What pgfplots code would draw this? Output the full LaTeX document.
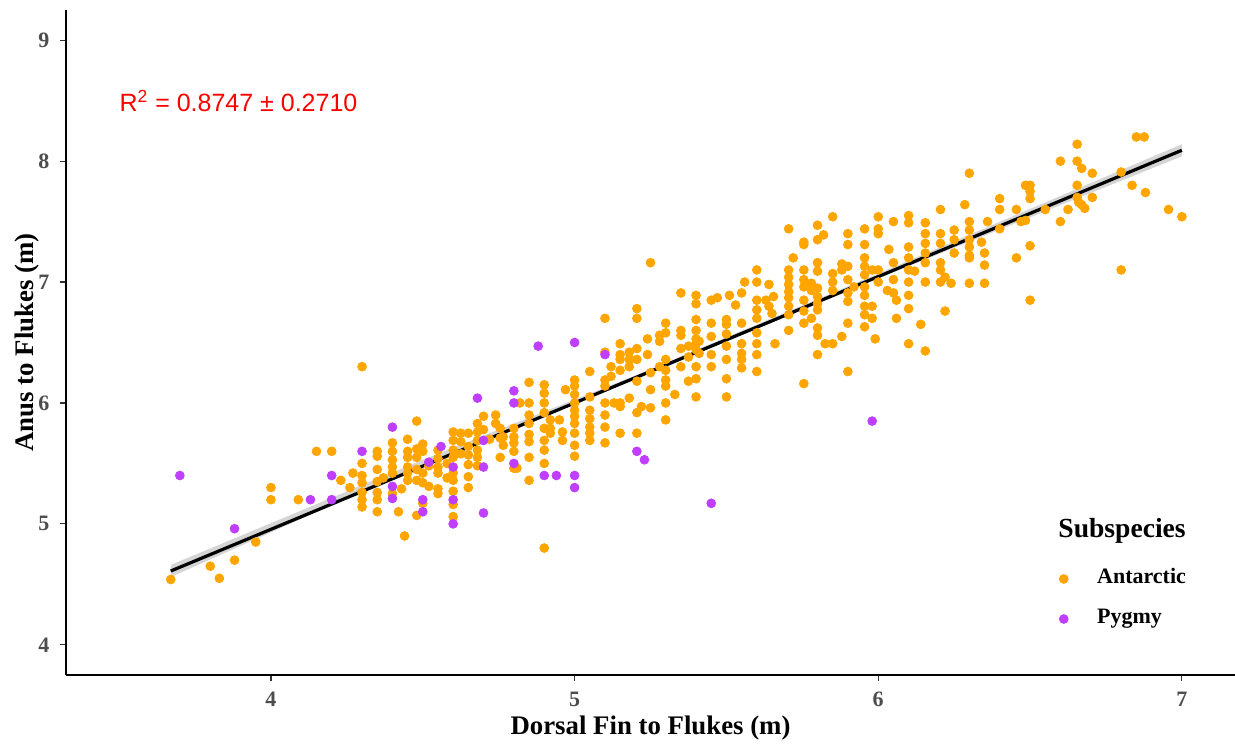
\documentclass[border=0pt]{standalone}
\usepackage{fontspec}
\setmainfont{Liberation Serif}
\newfontfamily\arialf{Liberation Sans}
\usepackage{pgfplots}
\pgfplotsset{compat=1.18}
\definecolor{antc}{HTML}{FFA500}
\definecolor{pygc}{HTML}{BF3EFF}
\definecolor{tickgray}{HTML}{4D4D4D}
\definecolor{tickmark}{HTML}{333333}
\begin{document}
\begin{tikzpicture}
\begin{axis}[
  at={(0pt,0pt)}, anchor=south west,
  width=584.5pt, height=332.5pt, scale only axis,
  xmin=3.325, xmax=7.175, ymin=3.75, ymax=9.25,
  axis lines=left, axis line style={-, line width=1.1pt, black},
  xtick={4,5,6,7}, ytick={4,5,6,7,8,9},
  tick align=outside, major tick length=2.75pt,
  tick style={tickmark, line width=0.6pt},
  /pgf/number format/assume math mode=true,
  ticklabel style={font=\fontsize{11}{13}\selectfont\bfseries, text=tickgray},
  xticklabel style={anchor=center, yshift=-9.5pt},
  yticklabel style={anchor=east, xshift=-2pt},
  xlabel={Dorsal Fin to Flukes (m)},
  ylabel={Anus to Flukes (m)},
  every axis x label/.style={at={(axis description cs:0.5,-0.0797)}, anchor=center, font=\fontsize{13.4}{16}\selectfont\bfseries},
  every axis y label/.style={at={(axis description cs:-0.0334,0.5)}, rotate=90, anchor=center, font=\fontsize{13.4}{16}\selectfont\bfseries},
  legend style={at={(rel axis cs:0.8494,0.1143)}, anchor=west, draw=none, fill=none,
    font=\fontsize{11}{13}\selectfont\bfseries, row sep=7pt, inner sep=0pt,
    nodes={inner sep=1pt, text height=8pt, text depth=3pt},
    /tikz/every odd column/.append style={column sep=13.5pt}},
  legend cell align=left,
  clip=false,
]
\addplot[only marks, mark=*, mark size=2.2pt, mark options={draw=antc, fill=antc}] coordinates {
(3.67,4.54) (3.80,4.65) (3.83,4.55) (3.88,4.70) (3.95,4.85) (4.00,5.30) (4.00,5.20) (4.09,5.20)
(4.15,5.60) (4.20,5.60) (4.23,5.36) (4.26,5.30) (4.27,5.42) (4.30,6.30) (4.30,5.50) (4.30,5.40)
(4.30,5.34) (4.30,5.26) (4.30,5.20) (4.30,5.14) (4.35,5.60) (4.35,5.56) (4.35,5.45) (4.35,5.35)
(4.35,5.26) (4.35,5.20) (4.35,5.10) (4.37,5.38) (4.44,4.90) (4.42,5.10) (4.48,5.07) (4.50,5.17)
(4.40,5.67) (4.40,5.60) (4.40,5.53) (4.40,5.47) (4.40,5.42) (4.40,5.25) (4.43,5.29)
(4.45,5.70) (4.45,5.60) (4.45,5.47) (4.45,5.42) (4.45,5.36) (4.45,5.55)
(4.48,5.85) (4.48,5.55) (4.48,5.45) (4.48,5.36) (4.48,5.62)
(4.50,5.66) (4.50,5.60) (4.50,5.42) (4.50,5.34) (4.52,5.31) (4.52,5.48)
(4.55,5.29) (4.55,5.25) (4.55,5.61) (4.55,5.54) (4.55,5.47) (4.55,5.42) (4.58,5.50) (4.58,5.38)
(4.60,5.76) (4.60,5.69) (4.60,5.61) (4.60,5.55) (4.60,5.42) (4.60,5.36) (4.60,5.27) (4.60,5.16) (4.60,5.06)
(4.625,5.75) (4.625,5.68) (4.625,5.58)
(4.65,5.75) (4.65,5.64) (4.65,5.57) (4.65,5.49) (4.65,5.39) (4.65,5.30)
(4.68,5.83) (4.68,5.76) (4.68,5.69) (4.68,5.61) (4.68,5.55) (4.68,5.48)
(4.70,5.89) (4.70,5.78) (4.72,5.70) (4.74,5.90) (4.74,5.83) (4.755,5.79) (4.755,5.71) (4.755,5.55) (4.765,5.72) (4.765,5.65)
(4.80,5.79) (4.80,5.72) (4.80,5.67) (4.80,5.60) (4.80,5.46) (4.81,5.46) (4.82,6.00) (4.85,6.00)
(4.85,6.17) (4.85,5.90) (4.85,5.83) (4.85,5.74) (4.85,5.68) (4.85,5.55) (4.85,5.36)
(4.90,6.15) (4.90,6.08) (4.90,6.00) (4.90,5.92) (4.90,5.79) (4.90,5.69) (4.90,5.61) (4.90,5.50) (4.90,4.80)
(4.92,5.86) (4.92,5.79) (4.92,5.75) (4.95,5.86) (4.97,6.11) (4.96,5.76) (4.96,5.69)
(5.00,6.19) (5.00,6.14) (5.00,6.07) (5.00,6.00) (5.00,5.94) (5.00,5.89) (5.00,5.83) (5.00,5.75) (5.00,5.65) (5.00,5.56)
(5.05,6.26) (5.05,5.94) (5.05,5.87) (5.05,5.80) (5.05,5.75) (5.05,5.69) (5.05,6.05)
(5.10,6.70) (5.10,6.42) (5.10,6.19) (5.10,6.14) (5.10,6.00) (5.10,5.90) (5.10,5.80) (5.10,5.67)
(5.12,6.30) (5.12,6.22) (5.13,6.00)
(5.15,6.49) (5.15,6.40) (5.15,6.36) (5.15,6.27) (5.15,6.00) (5.15,5.97) (5.15,5.75)
(5.18,6.42) (5.18,6.36) (5.18,6.30) (5.18,6.04)
(5.205,6.78) (5.205,6.70) (5.205,6.45) (5.205,6.36) (5.205,6.18) (5.205,5.92) (5.205,5.75)
(5.22,5.97) (5.24,6.53) (5.24,6.40) (5.25,6.11) (5.25,5.96) (5.25,7.16) (5.25,6.25)
(5.28,6.56) (5.28,6.51) (5.28,6.30)
(5.30,6.66) (5.30,6.58) (5.30,6.36) (5.30,6.27) (5.30,6.19) (5.30,6.14) (5.30,6.00) (5.30,5.86)
(5.33,6.07) (5.35,6.91) (5.35,6.60) (5.35,6.56) (5.35,6.30) (5.35,6.45)
(5.375,6.47) (5.375,6.38) (5.375,6.18)
(5.40,6.89) (5.40,6.82) (5.40,6.69) (5.40,6.60) (5.40,6.53) (5.40,6.49) (5.40,6.44) (5.40,6.30) (5.40,6.20) (5.40,6.05)
(5.41,6.51) (5.41,6.41)
(5.45,6.85) (5.45,6.66) (5.45,6.40) (5.45,6.30) (5.47,6.87) (5.45,6.55)
(5.50,6.69) (5.50,6.65) (5.50,6.47) (5.50,6.36) (5.50,6.20) (5.50,6.05) (5.50,6.57)
(5.51,6.89) (5.53,6.81)
(5.55,6.91) (5.55,6.66) (5.55,6.49) (5.55,6.41) (5.55,6.36) (5.55,6.29) (5.56,7.00)
(5.60,7.10) (5.60,7.00) (5.60,6.85) (5.60,6.77) (5.60,6.70) (5.60,6.58) (5.60,6.49) (5.60,6.40) (5.60,6.26)
(5.63,6.85) (5.64,6.80) (5.64,6.98) (5.655,6.88) (5.66,6.49) (5.65,6.74)
(5.705,7.44) (5.705,7.10) (5.705,7.04) (5.705,6.98) (5.705,6.92) (5.705,6.87) (5.705,6.80) (5.705,6.73) (5.705,6.60)
(5.72,7.20)
(5.755,7.33) (5.755,7.31) (5.755,7.10) (5.755,7.02) (5.755,6.96) (5.755,6.85) (5.755,6.76) (5.755,6.66) (5.755,6.16)
(5.78,6.99) (5.78,6.93) (5.78,6.70)
(5.80,7.47) (5.80,7.35) (5.80,7.16) (5.80,7.09) (5.80,6.95) (5.80,6.88) (5.80,6.82) (5.80,6.77) (5.80,6.62) (5.80,6.56) (5.80,6.40)
(5.82,7.39) (5.825,6.49) (5.85,6.49)
(5.85,7.54) (5.85,7.07) (5.85,7.00) (5.85,6.93)
(5.88,7.15) (5.88,7.10) (5.88,6.55)
(5.90,7.40) (5.90,7.31) (5.90,7.13) (5.90,7.02) (5.90,6.91) (5.90,6.84) (5.90,6.66) (5.90,6.26)
(5.92,6.96)
(5.955,7.44) (5.955,7.31) (5.955,7.20) (5.955,7.13) (5.955,7.06) (5.955,6.96) (5.955,6.89) (5.955,6.80) (5.955,6.73) (5.955,6.63)
(5.98,7.10) (5.98,6.80) (5.98,6.70) (5.99,6.53)
(6.00,7.54) (6.00,7.44) (6.00,7.40) (6.00,7.10) (6.00,7.00)
(6.035,7.27) (6.03,6.93) (6.05,6.91) (6.06,6.85) (6.05,7.50) (6.05,7.16) (6.05,7.02) (6.06,6.70)
(6.10,7.55) (6.10,7.49) (6.10,7.29) (6.10,7.20) (6.10,7.10) (6.10,7.00) (6.10,6.89) (6.10,6.78) (6.10,6.49)
(6.12,7.09) (6.14,6.65)
(6.155,7.49) (6.155,7.40) (6.155,7.32) (6.155,7.24) (6.155,7.16) (6.155,7.00) (6.155,6.43)
(6.205,7.60) (6.205,7.40) (6.205,7.32) (6.205,7.16) (6.205,7.10) (6.205,7.00)
(6.22,6.76) (6.25,7.43) (6.25,7.35) (6.25,7.24) (6.24,6.99) (6.22,7.04) (6.285,7.64) (6.30,7.90)
(6.30,7.50) (6.30,7.43) (6.30,7.35) (6.30,7.29) (6.30,7.22) (6.30,7.20) (6.30,6.99)
(6.34,7.33) (6.35,7.24) (6.35,7.14) (6.35,6.99) (6.36,7.50)
(6.40,7.69) (6.40,7.60) (6.40,7.44)
(6.455,7.60) (6.455,7.20) (6.47,7.50) (6.485,7.80) (6.50,7.80) (6.50,7.75) (6.50,7.69) (6.50,7.30) (6.50,6.85) (6.485,7.51)
(6.55,7.60) (6.60,8.00) (6.60,7.50) (6.625,7.60)
(6.655,8.14) (6.655,8.00) (6.655,7.80) (6.655,7.70)
(6.67,7.94) (6.66,7.66) (6.67,7.64) (6.68,7.61) (6.705,7.90) (6.705,7.70)
(6.80,7.91) (6.80,7.10) (6.836,7.80) (6.85,8.20) (6.876,8.20) (6.88,7.74) (6.956,7.60) (7.00,7.54)
};
\addlegendentry{Antarctic}
\addplot[only marks, mark=*, mark size=2.2pt, mark options={draw=pygc, fill=pygc}] coordinates {
(3.70,5.40) (3.88,4.96) (4.13,5.20) (4.20,5.40) (4.20,5.20) (4.30,5.60) (4.40,5.80) (4.50,5.10)
(4.50,5.20) (4.40,5.31) (4.40,5.21) (4.52,5.51) (4.56,5.64) (4.60,5.47) (4.60,5.20) (4.60,5.00)
(4.68,6.04) (4.70,5.69) (4.70,5.47) (4.70,5.09) (4.80,6.10) (4.80,6.00) (4.80,5.50) (4.90,5.40)
(4.88,6.47) (5.00,6.50) (5.10,6.40) (4.94,5.40) (5.00,5.40) (5.00,5.30) (5.205,5.60) (5.23,5.53)
(5.45,5.17) (5.98,5.85)
};
\addlegendentry{Pygmy}
\addplot[forget plot, draw=none, fill=gray!55, fill opacity=0.6] coordinates {
(3.67,4.66) (4.50,5.53) (5.20,6.227) (6.00,7.07) (7.00,8.14)
(7.00,8.04) (6.00,7.03) (5.20,6.193) (4.50,5.49) (3.67,4.56)
} -- cycle;
\addplot[forget plot, black, line width=1.6pt] coordinates {(3.67,4.61) (7.00,8.09)};
\node[anchor=west, inner sep=0pt, text=red, font=\arialf\fontsize{12.5}{14}\selectfont] at (axis cs:3.5,8.5) {R\textsuperscript{2} = 0.8747 ± 0.2710};
\node[anchor=west, inner sep=0pt, font=\fontsize{13.8}{16}\selectfont\bfseries] at (rel axis cs:0.8486,0.2165) {Subspecies};
\end{axis}
\pgfresetboundingbox
\path[use as bounding box] (-33pt,-34.5pt) rectangle (584.5pt,337.5pt);
\end{tikzpicture}
\end{document}
